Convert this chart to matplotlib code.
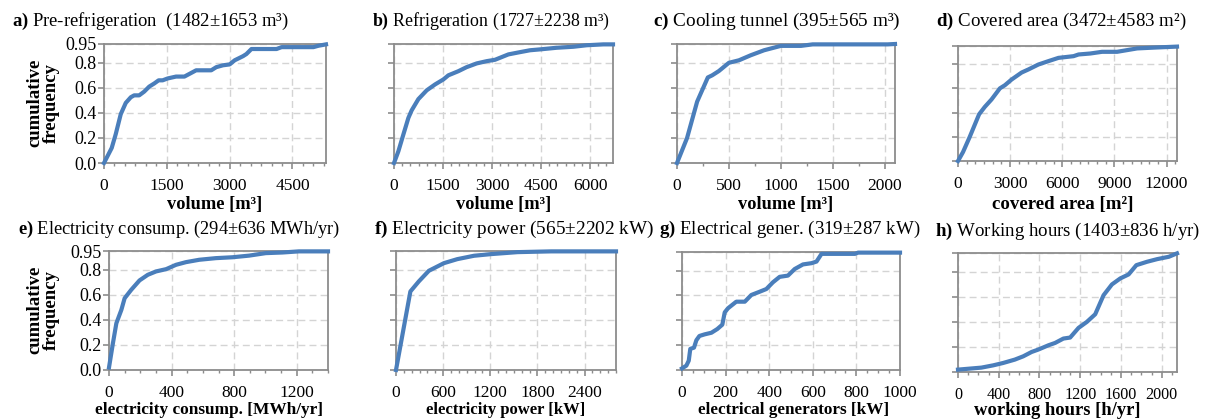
"""Cumulative frequency curves for the eight plant descriptors."""
import matplotlib
matplotlib.use("Agg")
import matplotlib.pyplot as plt
from matplotlib.ticker import MultipleLocator

plt.rcParams["font.family"] = ["Liberation Serif", "DejaVu Serif"]
plt.rcParams["mathtext.fontset"] = "custom"
plt.rcParams["mathtext.rm"] = "Liberation Serif"
plt.rcParams["mathtext.bf"] = "Liberation Serif:bold"

LINE = "#4a7ebb"
SPINE = "#8c8c8c"
GRID = "#d4d4d4"

# ---- data ----
pre_refrig_x = [0, 184, 280, 400, 520, 640, 720, 840, 960, 1080, 1200, 1304, 1400, 1520, 1720,
                1920, 2200, 2560, 2680, 2840, 3000, 3120, 3320, 3400, 3520, 4120, 4240, 5000, 5120, 5300]
pre_refrig_y = [0.0, 0.12, 0.23, 0.39, 0.48, 0.525, 0.54, 0.54, 0.57, 0.61, 0.635, 0.66, 0.66, 0.675, 0.69,
                0.69, 0.74, 0.74, 0.765, 0.78, 0.787, 0.82, 0.853, 0.87, 0.91, 0.91, 0.925, 0.925, 0.936, 0.947]

refrig_x = [0, 133, 286, 440, 540, 745, 1000, 1255, 1510, 1663, 1970, 2220, 2530, 2835, 3090,
            3500, 3855, 4160, 4467, 4977, 5487, 5895, 6405, 6700]
refrig_y = [0.0, 0.093, 0.227, 0.36, 0.42, 0.51, 0.58, 0.627, 0.667, 0.70, 0.733, 0.765, 0.795, 0.813, 0.824,
            0.867, 0.885, 0.90, 0.907, 0.92, 0.928, 0.94, 0.947, 0.947]

tunnel_x = [0, 97, 194, 297, 339, 403, 500, 597, 710, 839, 1000, 1194, 1307, 2030, 2100]
tunnel_y = [0.0, 0.2, 0.49, 0.683, 0.70, 0.734, 0.80, 0.82, 0.86, 0.90, 0.935, 0.935, 0.947, 0.947, 0.95]

area_x = [0, 289, 674, 1214, 1542, 1927, 2409, 2698, 3083, 3662, 4047, 4625, 5203, 5781, 6648,
          6937, 7611, 8286, 9153, 9730, 10308, 11465, 12600]
area_y = [0.0, 0.074, 0.199, 0.386, 0.447, 0.508, 0.60, 0.626, 0.673, 0.731, 0.756, 0.797, 0.825, 0.852, 0.866,
          0.88, 0.888, 0.902, 0.902, 0.916, 0.93, 0.938, 0.945]

elec_cons_x = [0, 25, 47, 79, 100, 142, 195, 248, 301, 365, 429, 492, 577, 683, 789, 895, 1002, 1108, 1214, 1400]
elec_cons_y = [0.02, 0.213, 0.373, 0.48, 0.573, 0.64, 0.715, 0.76, 0.787, 0.805, 0.84, 0.861, 0.88, 0.893, 0.90,
               0.913, 0.933, 0.938, 0.947, 0.947]

elec_pow_x = [0, 183, 290, 418, 610, 780, 993, 1206, 1547, 1974, 2800]
elec_pow_y = [0.0, 0.627, 0.707, 0.792, 0.853, 0.885, 0.912, 0.925, 0.941, 0.947, 0.947]

generators_x = [0, 20, 31, 38, 55, 66, 80, 104, 135, 162, 185, 196, 211, 249, 288, 318, 356, 387, 417,
                448, 486, 517, 555, 594, 617, 640, 793, 808, 1000]
generators_y = [0.013, 0.035, 0.075, 0.17, 0.18, 0.24, 0.274, 0.287, 0.30, 0.33, 0.365, 0.464, 0.497, 0.55,
                0.55, 0.604, 0.63, 0.652, 0.706, 0.75, 0.76, 0.813, 0.85, 0.86, 0.873, 0.935, 0.935, 0.945, 0.945]

hours_x = [0, 115, 230, 345, 443, 558, 640, 723, 788, 887, 953, 1035, 1101, 1183, 1265, 1347,
           1429, 1511, 1593, 1675, 1751, 1856, 1955, 2070, 2150]
hours_y = [0.019, 0.027, 0.035, 0.053, 0.072, 0.099, 0.125, 0.16, 0.179, 0.213, 0.232, 0.267, 0.275, 0.352,
           0.40, 0.461, 0.613, 0.699, 0.747, 0.779, 0.853, 0.88, 0.901, 0.92, 0.947]

titles = [r"$\mathbf{a)}$ Pre-refrigeration  (1482±1653 m³)",
          r"$\mathbf{b)}$ Refrigeration (1727±2238 m³)",
          r"$\mathbf{c)}$ Cooling tunnel (395±565 m³)",
          r"$\mathbf{d)}$ Covered area (3472±4583 m²)",
          r"$\mathbf{e)}$ Electricity consump. (294±636 MWh/yr)",
          r"$\mathbf{f)}$ Electricity power (565±2202 kW)",
          r"$\mathbf{g)}$ Electrical gener. (319±287 kW)",
          r"$\mathbf{h)}$ Working hours (1403±836 h/yr)"]
xlabels = ["volume [m³]", "volume [m³]", "volume [m³]", "covered area [m²]",
           "electricity consump. [MWh/yr]", "electricity power [kW]",
           "electrical generators [kW]", "working hours [h/yr]"]
series = [(pre_refrig_x, pre_refrig_y), (refrig_x, refrig_y), (tunnel_x, tunnel_y), (area_x, area_y),
          (elec_cons_x, elec_cons_y), (elec_pow_x, elec_pow_y), (generators_x, generators_y),
          (hours_x, hours_y)]
x_max = [5300, 6700, 2100, 12600, 1400, 2800, 1000, 2150]
x_major = [1500, 1500, 500, 3000, 400, 600, 200, 400]
x_minor = [250, 250, 250, 500, 100, 100, 50, 100]
y_ticks = [0.0, 0.2, 0.4, 0.6, 0.8, 0.95]
y_ticklabels = ["0.0", "0.2", "0.4", "0.6", "0.8", "0.95"]

# ---- layout in pixels: left, right, top, bottom of each plot box ----
W, H = 1213, 420
boxes = [(104, 326, 44, 163), (394, 613, 44, 163), (677, 895, 44, 163), (958, 1177, 46, 161),
         (109, 328, 251, 370), (396, 616, 251, 370), (682, 900, 252, 370), (958, 1177, 253, 372)]
title_pos = [(12, 21), (372, 21), (653, 21), (936, 21), (18, 229), (374, 229), (659, 229), (935, 231)]
title_size = [13.4, 12.9, 13.9, 13.6, 13.2, 13.9, 13.6, 13.6]
xlabel_size = [13.2, 13.2, 13.2, 13.6, 12.4, 12, 12.3, 13.4]
xlabel_pos = [(0.5, -0.35), (0.5, -0.35), (0.5, -0.35), (0.48, -0.38),
              (0.455, -0.335), (0.5, -0.335), (0.51, -0.335), (0.455, -0.325)]
xtick_size = [12.5, 12.5, 12.5, 12.5, 12.5, 12.5, 12.5, 11.6]

fig = plt.figure(figsize=(W / 100, H / 100), dpi=100)

for i, (l, r, t, b) in enumerate(boxes):
    ax = fig.add_axes([l / W, 1 - b / H, (r - l) / W, (b - t) / H])
    xs, ys = series[i]
    ax.plot(xs, ys, color=LINE, lw=3, solid_joinstyle="round", clip_on=False, zorder=5)
    ax.set_xlim(0, x_max[i])
    ax.set_ylim(0, 0.95)
    ax.xaxis.set_major_locator(MultipleLocator(x_major[i]))
    ax.xaxis.set_minor_locator(MultipleLocator(x_minor[i]))
    ax.set_yticks(y_ticks)
    if i in (0, 4):
        ax.set_yticklabels(y_ticklabels)
    else:
        ax.set_yticklabels([])
    ax.set_axisbelow(True)
    ax.grid(True, which="major", color=GRID, lw=1, ls=(0, (5, 3)))
    for s in ax.spines.values():
        s.set_color(SPINE)
        s.set_linewidth(1.3)
    ax.tick_params(which="major", direction="out", length=4, width=1.2, color=SPINE)
    ax.tick_params(axis="x", labelsize=xtick_size[i], pad=6.5)
    ax.tick_params(axis="y", pad=1.5, labelsize=13)
    ax.tick_params(axis="x", which="minor", direction="out", length=2.5, width=1, color=SPINE)
    ax.set_xlabel(xlabels[i], fontsize=xlabel_size[i], fontweight="bold", va="center")
    ax.xaxis.set_label_coords(*xlabel_pos[i])
    fig.text(title_pos[i][0] / W, 1 - title_pos[i][1] / H, titles[i], fontsize=title_size[i],
             ha="left", va="center")

for yc in (103, 310):
    fig.text(43 / W, 1 - yc / H, "cumulative\nfrequency", rotation=90, fontsize=13.5,
             fontweight="bold", ha="center", va="center", linespacing=1.0)

fig.savefig("out.png", dpi=100)
